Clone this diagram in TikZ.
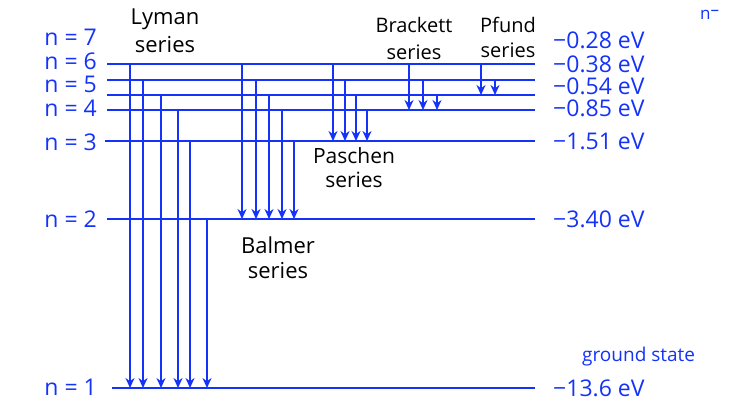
\documentclass[tikz,border=0pt]{standalone}
\usepackage{fontspec}
\setmainfont{Open Sans}
\usetikzlibrary{arrows.meta}
\definecolor{lvlblue}{RGB}{20,50,248}
\begin{document}
\begin{tikzpicture}[x=1pt,y=-1pt,
  level/.style={lvlblue, line width=1.5pt},
  trans/.style={lvlblue, line width=1.5pt, -{Stealth[length=10pt,width=9pt]}},
  nlab/.style={anchor=east, inner sep=0pt, text=lvlblue, font=\fontsize{23}{25}\selectfont},
  elab/.style={anchor=west, inner sep=0pt, text=lvlblue, font=\fontsize{23}{25}\selectfont},
  ser/.style={align=center, inner sep=0pt, text=black}]
\useasboundingbox (0,0) rectangle (749,416);
% energy levels
\coordinate (La) at (107,64);  \coordinate (Lae) at (535,64);
\coordinate (Lb) at (107,80);  \coordinate (Lbe) at (535,80);
\coordinate (Lc) at (107,95);  \coordinate (Lce) at (535,95);
\coordinate (Ld) at (107,110); \coordinate (Lde) at (535,110);
\coordinate (L3) at (105,141); \coordinate (L3e) at (535,141);
\coordinate (L2) at (107,219); \coordinate (L2e) at (535,219);
\coordinate (L1) at (112,388); \coordinate (L1e) at (535,388);
\foreach \a/\b in {La/Lae,Lb/Lbe,Lc/Lce,Ld/Lde,L3/L3e,L2/L2e,L1/L1e}
  \draw[level] (\a) -- (\b);
% Lyman
\foreach \x/\s in {130/La,143/Lb,161/Lc,178/Ld,190/L3,207/L2}
  \draw[trans] (\x,0 |- \s) -- (\x,0 |- L1);
% Balmer
\foreach \x/\s in {242/La,256/Lb,269/Lc,282/Ld,294/L3}
  \draw[trans] (\x,0 |- \s) -- (\x,0 |- L2);
% Paschen
\foreach \x/\s in {333/La,345/Lb,356/Lc,367/Ld}
  \draw[trans] (\x,0 |- \s) -- (\x,0 |- L3);
% Brackett
\foreach \x/\s in {409/La,423/Lb,437/Lc}
  \draw[trans] (\x,0 |- \s) -- (\x,0 |- Ld);
% Pfund
\foreach \x/\s in {481/La,495/Lb}
  \draw[trans] (\x,0 |- \s) -- (\x,0 |- Lc);
% level labels
\node[nlab] (n7) at (97,37)  {n = 7};
\node[nlab] (n6) at (97,61)  {n = 6};
\node[nlab] (n5) at (97,84)  {n = 5};
\node[nlab] (n4) at (97,108) {n = 4};
\node[nlab] (n3) at (97,142) {n = 3};
\node[nlab] (n2) at (97,219) {n = 2};
\node[nlab] (n1) at (97,387) {n = 1};
% energies
\node[elab] (e7) at (553,40)  {−0.28 eV};
\node[elab] (e6) at (553,64)  {−0.38 eV};
\node[elab] (e5) at (553,86)  {−0.54 eV};
\node[elab] (e4) at (553,108) {−0.85 eV};
\node[elab] (e3) at (553,141) {−1.51 eV};
\node[elab] (e2) at (553,219) {−3.40 eV};
\node[elab] (e1) at (553,388) {−13.6 eV};
\node[anchor=west, inner sep=0pt, text=lvlblue, font=\fontsize{19}{21}\selectfont] (gs) at (582,357) {ground state};
\node[anchor=west, inner sep=0pt, text=lvlblue, font=\fontsize{17}{19}\selectfont] (nt) at (700,15) {n\raisebox{4pt}{–}};
% series names
\node[ser, font=\fontsize{22}{28}\selectfont] (ly) at (165,31)  {Lyman\\series};
\node[ser, font=\fontsize{20}{27}\selectfont] (br) at (414,38)  {Brackett\\series};
\node[ser, font=\fontsize{20}{25}\selectfont] (pf) at (508,37)  {Pfund\\series};
\node[ser, font=\fontsize{21}{24}\selectfont] (pa) at (354,168) {Paschen\\series};
\node[ser, font=\fontsize{22}{25}\selectfont] (ba) at (278,258) {Balmer\\series};
\end{tikzpicture}
\end{document}
